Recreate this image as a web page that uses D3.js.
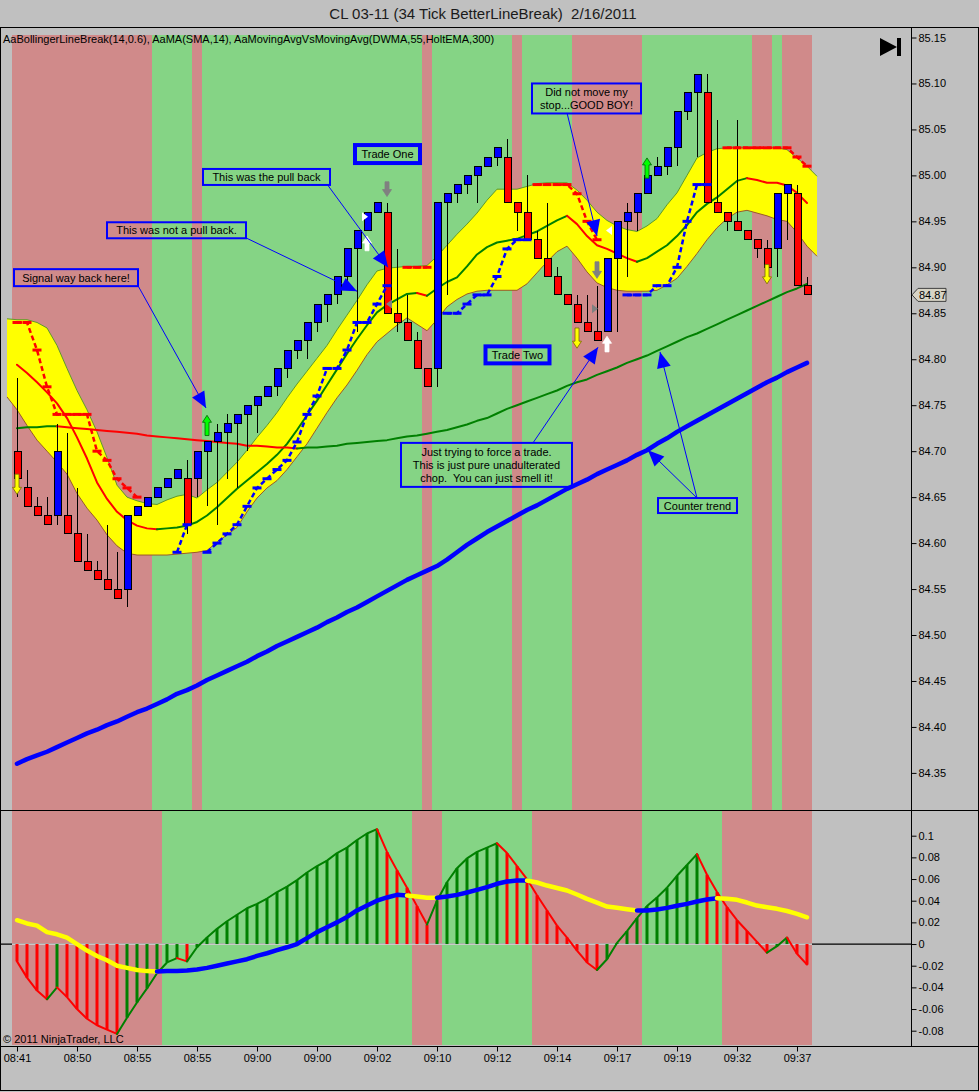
<!DOCTYPE html>
<html><head><meta charset="utf-8">
<script src="https://cdn.jsdelivr.net/npm/d3@7"></script>
<style>body{margin:0;background:#c0c0c0;}svg{display:block;font-family:"Liberation Sans",Arial,sans-serif;}svg text{white-space:pre;}</style>
</head><body><svg id="c" width="979" height="1092"></svg>
<script>
// ---------------- DATA ----------------
const chartTitle = "CL 03-11 (34 Tick BetterLineBreak)  2/16/2011";
const legendText = "AaBollingerLineBreak(14,0.6), AaMA(SMA,14), AaMovingAvgVsMovingAvg(DWMA,55,HoltEMA,300)";
const copyright = "\u00A9 2011 NinjaTrader, LLC";

const opens  = [84.70,84.66,84.64,84.63,84.63,84.63,84.61,84.58,84.57,84.56,84.55,84.55,84.63,84.64,84.65,84.66,84.67,84.67,84.67,84.70,
                84.71,84.72,84.73,84.74,84.75,84.76,84.77,84.79,84.81,84.82,84.84,84.86,84.87,84.89,84.92,84.94,84.96,84.96,84.85,84.84,
                84.82,84.79,84.79,84.97,84.98,84.99,85.00,85.01,85.02,85.02,84.97,84.96,84.93,84.91,84.89,84.87,84.86,84.84,84.83,84.83,
                84.91,84.95,84.96,84.98,85.00,85.01,85.03,85.07,85.09,85.09,84.97,84.96,84.95,84.94,84.93,84.92,84.92,84.98,84.98,84.88];
const highs  = [84.78,84.68,84.65,84.65,84.73,84.72,84.66,84.61,84.58,84.62,84.59,84.63,84.64,84.65,84.66,84.67,84.68,84.69,84.70,84.71,
                84.73,84.74,84.74,84.75,84.76,84.77,84.79,84.81,84.82,84.84,84.86,84.87,84.89,84.92,84.94,84.96,84.97,84.97,84.92,84.87,
                84.83,84.79,84.97,84.98,84.99,85.00,85.01,85.02,85.03,85.04,84.97,85.00,84.94,84.97,84.90,84.87,84.87,84.87,84.88,84.91,
                84.95,84.97,84.98,85.00,85.02,85.03,85.07,85.09,85.11,85.11,85.06,84.96,85.06,84.94,84.93,84.93,84.98,84.99,84.99,84.89];
const lows   = [84.65,84.64,84.63,84.62,84.62,84.61,84.58,84.57,84.56,84.55,84.54,84.53,84.63,84.64,84.65,84.66,84.67,84.61,84.65,84.64,
                84.62,84.67,84.66,84.70,84.72,84.76,84.76,84.78,84.80,84.80,84.83,84.84,84.86,84.88,84.83,84.94,84.96,84.85,84.83,84.82,
                84.79,84.77,84.77,84.87,84.97,84.98,84.97,85.01,85.01,84.97,84.94,84.93,84.91,84.89,84.87,84.86,84.84,84.83,84.82,84.83,
                84.83,84.89,84.94,84.98,85.00,85.00,85.01,85.06,85.02,84.97,84.96,84.94,84.94,84.93,84.91,84.90,84.89,84.93,84.88,84.87];
const closes = [84.67,84.64,84.63,84.62,84.70,84.61,84.58,84.57,84.56,84.55,84.54,84.63,84.64,84.65,84.66,84.67,84.68,84.62,84.70,84.71,
                84.72,84.73,84.74,84.75,84.76,84.77,84.79,84.81,84.82,84.84,84.86,84.87,84.89,84.92,84.94,84.96,84.97,84.85,84.84,84.82,
                84.79,84.77,84.97,84.98,84.99,85.00,85.01,85.02,85.03,84.97,84.96,84.93,84.91,84.89,84.87,84.86,84.84,84.83,84.82,84.91,
                84.95,84.96,84.98,85.00,85.01,85.03,85.07,85.09,85.11,84.97,84.96,84.95,84.94,84.93,84.92,84.90,84.98,84.99,84.88,84.87];

// Bollinger band edges, one value per bar from bar -1 to bar 80
const bandUpper = [84.844,84.843,84.843,84.840,84.834,84.815,84.790,84.766,84.745,84.721,
                   84.693,84.663,84.650,84.646,84.643,84.642,84.647,84.651,84.653,84.649,
                   84.658,84.666,84.677,84.688,84.701,84.715,84.728,84.742,84.758,84.773,
                   84.787,84.801,84.815,84.832,84.848,84.864,84.881,84.896,84.899,84.900,
                   84.901,84.901,84.902,84.912,84.924,84.936,84.947,84.959,84.973,84.985,
                   84.985,84.985,84.988,84.991,84.992,84.992,84.992,84.984,84.973,84.960,
                   84.951,84.945,84.941,84.939,84.945,84.953,84.968,84.981,85.000,85.019,
                   85.025,85.029,85.030,85.030,85.030,85.030,85.030,85.030,85.028,85.019,
                   85.010,84.999];
const bandLower = [84.759,84.745,84.728,84.712,84.700,84.688,84.675,84.654,84.638,84.625,
                   84.609,84.597,84.589,84.587,84.587,84.587,84.587,84.588,84.589,84.590,
                   84.592,84.601,84.609,84.617,84.634,84.649,84.660,84.668,84.680,84.694,
                   84.708,84.725,84.742,84.758,84.772,84.788,84.805,84.819,84.828,84.837,
                   84.845,84.838,84.831,84.843,84.857,84.865,84.871,84.874,84.875,84.875,
                   84.875,84.875,84.882,84.894,84.906,84.917,84.923,84.910,84.895,84.883,
                   84.878,84.875,84.874,84.874,84.874,84.875,84.881,84.888,84.901,84.915,
                   84.930,84.943,84.953,84.960,84.962,84.959,84.956,84.952,84.950,84.938,
                   84.923,84.912];
const smaMid = [84.794,84.785,84.775,84.764,84.752,84.736,84.715,84.692,84.666,84.648,
                84.634,84.625,84.619,84.616,84.615,84.616,84.617,84.619,84.623,84.630,
                84.639,84.649,84.659,84.668,84.677,84.686,84.696,84.708,84.723,84.739,
                84.755,84.772,84.789,84.806,84.822,84.837,84.851,84.859,84.865,84.871,
                84.872,84.869,84.877,84.884,84.889,84.901,84.914,84.922,84.927,84.929,
                84.931,84.935,84.939,84.945,84.951,84.956,84.947,84.934,84.924,84.920,
                84.915,84.910,84.906,84.910,84.917,84.924,84.934,84.946,84.960,84.969,
                84.976,84.985,84.994,84.997,84.995,84.992,84.992,84.989,84.981,84.970];
const dwma = [84.725,84.726,84.726,84.727,84.727,84.726,84.725,84.724,84.723,84.722,
              84.721,84.720,84.719,84.717,84.716,84.715,84.714,84.713,84.712,84.711,
              84.710,84.709,84.708,84.706,84.706,84.705,84.704,84.704,84.703,84.704,
              84.704,84.705,84.706,84.708,84.709,84.710,84.711,84.712,84.714,84.716,
              84.717,84.719,84.721,84.723,84.726,84.729,84.733,84.736,84.741,84.746,
              84.750,84.754,84.758,84.762,84.766,84.771,84.775,84.778,84.783,84.787,
              84.791,84.796,84.800,84.804,84.809,84.814,84.819,84.824,84.828,84.833,
              84.838,84.843,84.848,84.853,84.858,84.863,84.868,84.873,84.877,84.882];
const holtEma = [84.360,84.365,84.369,84.373,84.378,84.383,84.388,84.393,84.397,84.402,
                 84.406,84.411,84.416,84.420,84.425,84.430,84.436,84.440,84.445,84.451,
                 84.456,84.461,84.466,84.471,84.477,84.482,84.488,84.493,84.498,84.503,
                 84.508,84.514,84.519,84.525,84.530,84.536,84.542,84.548,84.554,84.560,
                 84.565,84.570,84.575,84.582,84.590,84.598,84.605,84.612,84.618,84.624,
                 84.630,84.636,84.641,84.647,84.653,84.659,84.664,84.669,84.675,84.680,
                 84.685,84.690,84.696,84.701,84.708,84.714,84.721,84.727,84.733,84.739,
                 84.745,84.751,84.757,84.763,84.769,84.775,84.780,84.786,84.791,84.796];
const _ = null;
const breakRed  = [84.84,84.84,84.81,84.77,84.74,84.74,84.74,84.74,84.70,84.69,
                   84.67,84.66,84.65,_,_,_,_,_,_,_,
                   _,_,_,_,_,_,_,_,_,_,
                   _,_,_,_,_,_,_,_,_,84.90,
                   84.90,84.90,_,_,_,_,_,_,_,_,
                   _,_,84.99,84.99,84.99,84.99,84.98,84.95,84.93,_,
                   _,_,_,_,_,_,_,_,_,_,
                   _,85.03,85.03,85.03,85.03,85.03,85.03,85.03,85.02,85.01];
const breakBlue = [_,_,_,_,_,_,_,_,_,_,
                   _,_,_,_,_,_,84.59,84.62,_,84.59,
                   84.60,84.61,84.62,84.64,84.66,84.67,84.68,84.69,84.71,84.74,
                   84.76,84.79,84.79,84.81,84.84,84.84,84.86,84.88,_,_,
                   _,_,_,84.85,84.85,84.86,84.87,84.87,84.89,84.92,
                   84.93,84.93,_,_,_,_,_,_,_,_,
                   _,84.87,84.87,84.87,84.88,84.88,84.90,84.95,84.99,84.99,
                   _,_,_,_,_,_,_,_,_,_];

// oscillator panel
const histValues = [-0.016,-0.031,-0.043,-0.051,-0.040,-0.049,-0.060,-0.069,-0.075,-0.079,
                    -0.083,-0.068,-0.054,-0.041,-0.027,-0.017,-0.013,-0.016,-0.003,0.006,
                    0.014,0.021,0.027,0.033,0.037,0.042,0.048,0.053,0.059,0.066,
                    0.072,0.077,0.084,0.089,0.096,0.102,0.106,0.085,0.068,0.052,
                    0.035,0.018,0.040,0.057,0.070,0.079,0.085,0.089,0.093,0.084,
                    0.072,0.060,0.045,0.031,0.017,0.006,-0.006,-0.017,-0.024,-0.014,
                    0.001,0.012,0.024,0.035,0.043,0.052,0.063,0.073,0.083,0.064,
                    0.048,0.034,0.022,0.012,0.002,-0.008,-0.002,0.006,-0.009,-0.019];
const signalValues = [0.022,0.019,0.017,0.011,0.009,0.006,0.000,-0.006,-0.011,-0.015,
                      -0.020,-0.022,-0.024,-0.025,-0.0254,-0.025,-0.0248,-0.0245,-0.0235,-0.022,
                      -0.020,-0.018,-0.016,-0.014,-0.011,-0.0085,-0.0057,-0.003,0.000,0.0055,
                      0.011,0.0155,0.020,0.025,0.031,0.0355,0.040,0.043,0.0454,0.0448,
                      0.0439,0.0427,0.0427,0.0439,0.0454,0.0476,0.050,0.0526,0.0556,0.0577,
                      0.0586,0.0586,0.0568,0.054,0.0517,0.0494,0.0457,0.0417,0.0383,0.0346,
                      0.0334,0.0321,0.031,0.031,0.0319,0.0334,0.0353,0.0371,0.0392,0.0411,
                      0.0423,0.0417,0.0408,0.0383,0.0355,0.034,0.0325,0.0305,0.0279,0.0247];

// trend background regions (bar ranges)
const mainBandFrom  = [0,14,18,19,41,42,50,51,56,63,74,76,77];
const mainBandTo    = [13,17,18,40,41,49,50,55,62,73,75,76,79];
const mainBandTrend = ["dn","up","dn","up","dn","up","dn","up","dn","up","dn","up","dn"];
const lowBandFrom   = [0,15,40,43,52,63,71];
const lowBandTo     = [14,39,42,51,62,70,79];
const lowBandTrend  = ["dn","up","dn","up","dn","up","dn"];

// axes
const priceTicks = [84.35,84.40,84.45,84.50,84.55,84.60,84.65,84.70,84.75,84.80,84.85,84.90,84.95,85.00,85.05,85.10,85.15];
const oscTicks = [-0.08,-0.06,-0.04,-0.02,0,0.02,0.04,0.06,0.08,0.1];
const timeTickBars = [0,6,12,18,24,30,36,42,48,54,60,66,72,78];
const timeLabels = ["08:41","08:50","08:55","08:55","09:00","09:00","09:02","09:10","09:12","09:14","09:17","09:19","09:32","09:37"];
const lastPrice = 84.87;

// signal arrows
const arrowBars  = [0,19,35,37,56,58,59,63,75];
const arrowKinds = ["yellowDown","greenUp","whiteUp","greyDown","yellowDown","greyDown","whiteUp","greenUp","yellowDown"];
const arrowFrom  = [84.675,84.739,84.934,84.993,84.834,84.906,84.825,85.019,84.903];
const arrowTo    = [84.653,84.717,84.918,84.977,84.812,84.888,84.808,84.997,84.882];
const markBars   = [35,37,58,59];
const markDirs   = ["right","left","right","left"];
const markPrices = [84.955,84.860,84.855,84.940];
const markColors = ["#ffffff","#808080","#808080","#ffffff"];

// annotations (box anchor in bar/price units)
const noteTexts  = [["Signal way back here!"],["This was not a pull back."],["This was the pull back"],["Trade One"],["Trade Two"],
                    ["Did not move my","stop...GOOD BOY!"],["Just trying to force a trade.","This is just pure unadulterated","chop.  You can just smell it!"],["Counter trend"]];
const noteBar    = [-0.3,9.0,18.6,33.8,46.85,51.5,38.4,64.1];
const notePrice  = [84.898,84.949,85.007,85.033,84.814,85.100,84.709,84.649];
const noteW      = [124,139,127,65,64,109,171,79];
const noteH      = [17,16,16,18,17,30,44,15];
const noteStroke = [2,2,2,4,4,2,2,2];
const pointerFromBar   = [12.1,22.9,31.1,55.0,51.6,68.0,68.0];
const pointerFromPrice = [84.880,84.932,84.989,85.068,84.709,84.649,84.649];
const pointerToBar     = [18.9,34.0,37.1,58.0,58.1,63.1,64.3];
const pointerToPrice   = [84.747,84.874,84.900,84.934,84.813,84.701,84.808];

// ---------------- DRAW ----------------
const PINK="#d08a8a", GREEN="#85d485", RED="#ff0000", DKGREEN="#008000", BLUE="#0000ff", YEL="#ffff00";
const svg = d3.select("#c");
const x  = d3.scaleLinear().domain([0,79]).range([17,807]);
const y  = d3.scaleLinear().domain([84.35,85.15]).range([772.9,37.5]);
const yl = d3.scaleLinear().domain([-0.08,0.1]).range([1030.7,835.7]);

svg.append("rect").attr("width",979).attr("height",1092).attr("fill","#c0c0c0");

// title
svg.append("text").attr("x",483).attr("y",19).attr("text-anchor","middle").attr("font-size",15).attr("fill","#1a1a1a").text(chartTitle);

// background regions
mainBandFrom.forEach((s,k)=>{
  svg.append("rect").attr("x",x(s)-5).attr("y",35).attr("width",x(mainBandTo[k])-x(s)+10).attr("height",775)
     .attr("fill",mainBandTrend[k]==="up"?GREEN:PINK);
});
lowBandFrom.forEach((s,k)=>{
  svg.append("rect").attr("x",x(s)-5).attr("y",811).attr("width",x(lowBandTo[k])-x(s)+10).attr("height",234)
     .attr("fill",lowBandTrend[k]==="up"?GREEN:PINK);
});

// helper: multi-coloured polyline
function colorPath(g, vals, xs, ys, colors, width){
  let i=1;
  while(i<vals.length){
    if(vals[i]==null||vals[i-1]==null){i++;continue;}
    const c=colors[i]; const pts=[[xs(i-1),ys(vals[i-1])]];
    while(i<vals.length && vals[i]!=null && vals[i-1]!=null && colors[i]===c){pts.push([xs(i),ys(vals[i])]);i++;}
    g.append("path").attr("d",d3.line()(pts)).attr("fill","none").attr("stroke",c).attr("stroke-width",width)
     .attr("stroke-linejoin","round").attr("stroke-linecap","round");
  }
}
function slopeColors(vals, up, dn, first){
  let cur=first; return vals.map((v,i)=>{ if(i>0){ if(v>vals[i-1]) cur=up; else if(v<vals[i-1]) cur=dn; } return cur; });
}

// Bollinger band
const bx = i => x(i-1);
const area = d3.area().x((d,i)=>bx(i)).y0((d,i)=>y(bandLower[i])).y1(d=>y(d));
const gMain = svg.append("g");
gMain.append("path").attr("d",area(bandUpper)).attr("fill",YEL);
gMain.append("path").attr("d",d3.line().x((d,i)=>bx(i)).y(d=>y(d))(bandUpper)).attr("fill","none").attr("stroke","#5f9a2a").attr("stroke-width",1);
gMain.append("path").attr("d",d3.line().x((d,i)=>bx(i)).y(d=>y(d))(bandLower)).attr("fill","none").attr("stroke","#9a5a2a").attr("stroke-width",1);

// moving averages
colorPath(gMain, smaMid, x, y, slopeColors(smaMid, DKGREEN, RED, RED), 2);
colorPath(gMain, dwma, x, y, slopeColors(dwma, DKGREEN, RED, DKGREEN), 2);
gMain.append("path").attr("d",d3.line().x((d,i)=>x(i)).y(d=>y(d)).curve(d3.curveLinear)(holtEma))
     .attr("fill","none").attr("stroke",BLUE).attr("stroke-width",4.5).attr("stroke-linejoin","round").attr("stroke-linecap","round");

// candles
const gC = svg.append("g").attr("shape-rendering","crispEdges");
opens.forEach((o,i)=>{
  const c=closes[i], up=c>o;
  gC.append("line").attr("x1",x(i)+0.5).attr("x2",x(i)+0.5).attr("y1",y(highs[i])).attr("y2",y(lows[i])).attr("stroke","#000").attr("stroke-width",1);
  const top=y(Math.max(o,c)), bot=y(Math.min(o,c));
  gC.append("rect").attr("x",x(i)-3).attr("y",top).attr("width",7).attr("height",Math.max(1,bot-top))
    .attr("fill",up?BLUE:RED).attr("stroke","#000").attr("stroke-width",1);
});

// line-break levels
function breakLine(vals,color){
  const g=svg.append("g");
  g.append("path").attr("d",d3.line().defined(d=>d!=null).x((d,i)=>x(i)).y(d=>y(d))(vals))
   .attr("fill","none").attr("stroke",color).attr("stroke-width",2.5).attr("stroke-dasharray","5,3");
  vals.forEach((v,i)=>{ if(v!=null) g.append("rect").attr("x",x(i)-4.5).attr("y",y(v)-1.5).attr("width",9).attr("height",3).attr("fill",color); });
}
breakLine(breakRed,RED);
breakLine(breakBlue,BLUE);

// signal arrows
const arrowStyle = {yellowDown:[YEL,"#7a6a00"],greenUp:["#00ff00","#006000"],whiteUp:["#ffffff","#ffffff"],greyDown:["#808080","#808080"]};
arrowBars.forEach((b,k)=>{
  const cx=x(b), y1=y(arrowFrom[k]), y2=y(arrowTo[k]);
  const down = arrowKinds[k].endsWith("Down");
  const tailY = down? Math.min(y1,y2):Math.max(y1,y2), tipY = down? Math.max(y1,y2):Math.min(y1,y2);
  const dir = down?1:-1, headL=7;
  const neck = tipY - dir*headL;
  const pts=[[cx-2,tailY],[cx+2,tailY],[cx+2,neck],[cx+4.5,neck],[cx,tipY],[cx-4.5,neck],[cx-2,neck]];
  const st=arrowStyle[arrowKinds[k]];
  svg.append("polygon").attr("points",pts.map(p=>p.join(",")).join(" ")).attr("fill",st[0]).attr("stroke",st[1]).attr("stroke-width",0.8);
});
markBars.forEach((b,k)=>{
  const cy=y(markPrices[k]); const cx=x(b);
  const pts = markDirs[k]==="right" ? [[cx-5,cy-4.5],[cx+1,cy],[cx-5,cy+4.5]] : [[cx+5,cy-4.5],[cx-1,cy],[cx+5,cy+4.5]];
  svg.append("polygon").attr("points",pts.map(p=>p.join(",")).join(" ")).attr("fill",markColors[k]);
});

// annotations
const gN = svg.append("g");
pointerFromBar.forEach((b,k)=>{
  const x1=x(b), y1=y(pointerFromPrice[k]), x2=x(pointerToBar[k]), y2=y(pointerToPrice[k]);
  gN.append("line").attr("x1",x1).attr("y1",y1).attr("x2",x2).attr("y2",y2).attr("stroke",BLUE).attr("stroke-width",1);
  const dx=x2-x1, dy=y2-y1, L=Math.hypot(dx,dy), ux=dx/L, uy=dy/L, len=16, hw=7;
  const bxp=x2-ux*len, byp=y2-uy*len;
  gN.append("polygon").attr("points",[[x2,y2],[bxp-uy*hw,byp+ux*hw],[bxp+uy*hw,byp-ux*hw]].map(p=>p.join(",")).join(" ")).attr("fill",BLUE);
});
noteTexts.forEach((lines,k)=>{
  const bxl=x(noteBar[k]), byt=y(notePrice[k]);
  gN.append("rect").attr("x",bxl).attr("y",byt).attr("width",noteW[k]).attr("height",noteH[k])
    .attr("fill","none").attr("stroke",BLUE).attr("stroke-width",noteStroke[k]);
  const lh=13, y0=byt+noteH[k]/2-(lines.length-1)*lh/2+4;
  lines.forEach((t,j)=>{
    gN.append("text").attr("x",bxl+noteW[k]/2).attr("y",y0+j*lh).attr("text-anchor","middle").attr("font-size",11).attr("fill","#000").text(t);
  });
});

// legend text
svg.append("text").attr("x",3).attr("y",43).attr("font-size",11).attr("fill","#000").text(legendText);

// play-to-end icon
svg.append("polygon").attr("points","880,38 897,47 880,56").attr("fill","#000");
svg.append("rect").attr("x",897).attr("y",38).attr("width",4).attr("height",18).attr("fill","#000");

// oscillator panel
const gL = svg.append("g");
gL.append("line").attr("x1",0).attr("x2",911).attr("y1",yl(0)).attr("y2",yl(0)).attr("stroke","#000").attr("stroke-width",1.2);
gL.append("line").attr("x1",12).attr("x2",812).attr("y1",yl(0)).attr("y2",yl(0)).attr("stroke","#fff").attr("stroke-width",1.2);
const histColors = histValues.map((v,i)=> i>0 && v>histValues[i-1] ? DKGREEN : RED);
histValues.forEach((v,i)=>{
  gL.append("rect").attr("x",x(i)-1.5).attr("width",3).attr("y",Math.min(yl(0),yl(v))).attr("height",Math.abs(yl(v)-yl(0)))
    .attr("fill",histColors[i]);
});
colorPath(gL, histValues, x, yl, histColors, 2);
const lowState = new Array(80);
lowBandFrom.forEach((s,k)=>{ for(let i=s;i<=lowBandTo[k];i++) lowState[i]=lowBandTrend[k]; });
colorPath(gL, signalValues, x, yl, lowState.map(s=>s==="up"?BLUE:YEL), 4.5);

// frame lines
const frame = svg.append("g").attr("stroke","#000").attr("stroke-width",1).attr("shape-rendering","crispEdges");
[[0,27.5,979,27.5],[0,810.5,979,810.5],[0,1046.5,979,1046.5],[0,1090.5,979,1090.5],[0.5,27,0.5,1091],[978.5,27,978.5,1091],[911.5,27,911.5,1047]]
  .forEach(l=>frame.append("line").attr("x1",l[0]).attr("y1",l[1]).attr("x2",l[2]).attr("y2",l[3]));

// axes
function styleAxis(g){
  g.select(".domain").remove();
  g.selectAll("text").attr("font-size",11).attr("font-family","Liberation Sans, Arial, sans-serif").attr("fill","#000");
  g.selectAll("line").attr("stroke","#000");
}
styleAxis(svg.append("g").attr("transform","translate(911.5,0)")
  .call(d3.axisRight(y).tickValues(priceTicks).tickSize(5).tickPadding(2).tickFormat(d=>d.toFixed(2))));
styleAxis(svg.append("g").attr("transform","translate(911.5,0)")
  .call(d3.axisRight(yl).tickValues(oscTicks).tickSize(5).tickPadding(2).tickFormat(d=>String(Math.round(d*100)/100))));
styleAxis(svg.append("g").attr("transform","translate(0,1046.5)")
  .call(d3.axisBottom(x).tickValues(timeTickBars).tickSize(5).tickPadding(3).tickFormat((d,i)=>timeLabels[i])));

// last price marker
const ly=y(lastPrice);
svg.append("polygon").attr("points",`912,${ly} 918,${ly-6.5} 946,${ly-6.5} 946,${ly+6.5} 918,${ly+6.5}`).attr("fill","#d8d4c6").attr("stroke","#404040").attr("stroke-width",1);
svg.append("text").attr("x",919).attr("y",ly+4).attr("font-size",11).attr("fill","#000").text(lastPrice.toFixed(2));

// copyright
svg.append("text").attr("x",3).attr("y",1043).attr("font-size",11).attr("fill","#000").text(copyright);
</script></body></html>
